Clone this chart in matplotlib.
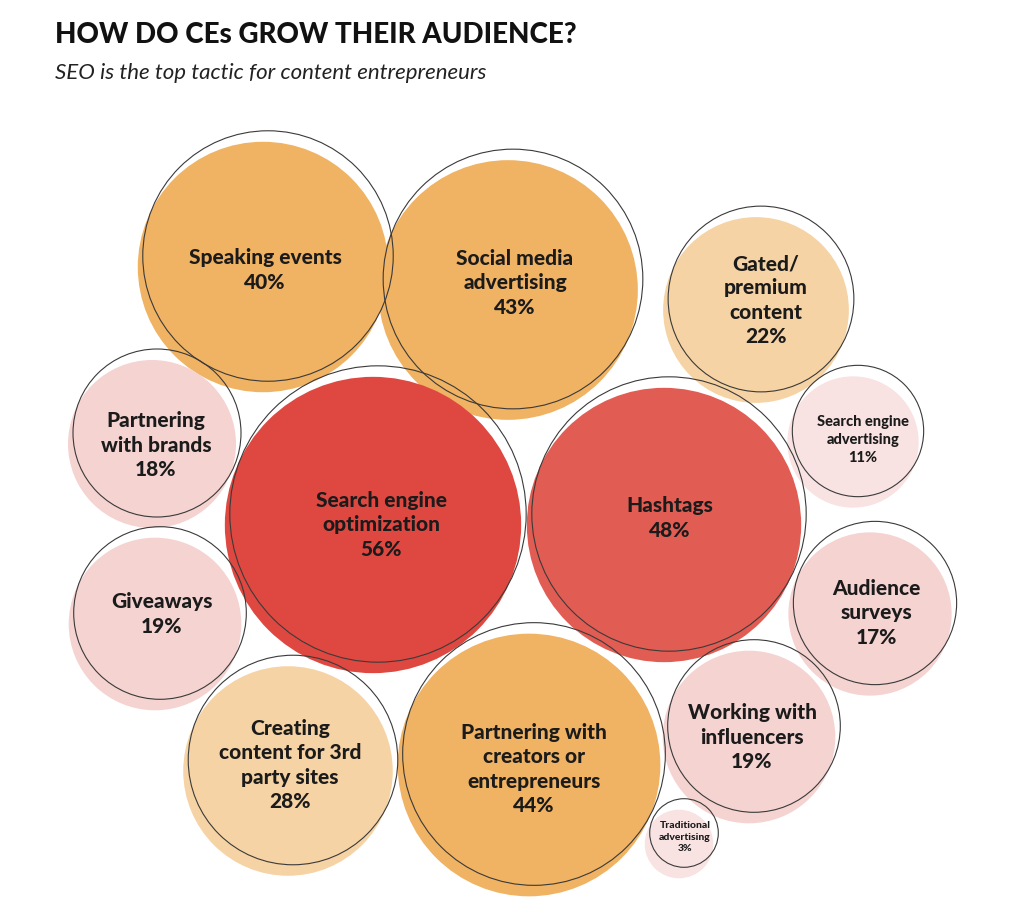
import matplotlib.pyplot as plt
from matplotlib.patches import Circle
import numpy as np

plt.rcParams['font.family'] = ['Lato', 'DejaVu Sans']

# data
labels = ['Speaking events', 'Social media\nadvertising', 'Gated/\npremium\ncontent',
          'Search engine\nadvertising', 'Partnering\nwith brands', 'Search engine\noptimization',
          'Hashtags', 'Giveaways', 'Audience\nsurveys', 'Working with\ninfluencers',
          'Creating\ncontent for 3rd\nparty sites', 'Partnering with\ncreators or\nentrepreneurs',
          'Traditional\nadvertising']
values = [40, 43, 22, 11, 18, 56, 48, 19, 17, 19, 28, 44, 3]

# layout (pixel space): outline centres and label anchors
centres = [(268, 256), (513, 279), (761, 299), (858, 431), (157, 433), (378, 514),
           (669, 514), (160, 613), (875, 603), (754, 726), (293, 760), (534, 754),
           (684, 833)]
label_xy = [(265, 270), (515, 283), (766, 300), (863, 440), (156, 445), (381, 525),
            (670, 518), (162, 614), (876, 613), (752, 737), (290, 765), (534, 769),
            (685, 837)]

fill_shift = (-5, 11)


def bubble_colour(label, v):
    if label == 'Hashtags':
        return '#E15C53'
    if v >= 50:
        return '#DE4841'
    if v >= 40:
        return '#F0B263'
    if v >= 20:
        return '#F6D3A4'
    if v >= 15:
        return '#F4D3D1'
    return '#F8E3E2'


def font_size(v):
    if v < 5:
        return 7.5
    if v < 15:
        return 10.5
    return 15


fig = plt.figure(figsize=(10.25, 9.10), dpi=100)
ax = fig.add_axes([0, 0, 1, 1])
ax.set_xlim(0, 1025)
ax.set_ylim(910, 0)
ax.axis('off')

radii = 19.8 * np.sqrt(values)

# fills first, offset down-left
for (cx, cy), r, lab, v in zip(centres, radii, labels, values):
    ax.add_patch(Circle((cx + fill_shift[0], cy + fill_shift[1]), r,
                        facecolor=bubble_colour(lab, v), edgecolor='none', zorder=1))

# thin outlines on top
for (cx, cy), r in zip(centres, radii):
    ax.add_patch(Circle((cx, cy), r, facecolor='none', edgecolor='#3a3a3a',
                        linewidth=0.8, zorder=2))

for (tx, ty), lab, v in zip(label_xy, labels, values):
    ax.text(tx, ty, f'{lab}\n{v}%', ha='center', va='center', fontsize=font_size(v),
            fontweight='black', color='#1b1b1b', linespacing=1.32, zorder=3)

ax.text(55, 43, 'HOW DO CEs GROW THEIR AUDIENCE?', fontsize=20, fontweight='black',
        color='#111111', va='baseline', ha='left')
ax.text(55, 79, 'SEO is the top tactic for content entrepreneurs', fontsize=16,
        style='italic', color='#222222', va='baseline', ha='left')

plt.savefig('out.png', dpi=100)
